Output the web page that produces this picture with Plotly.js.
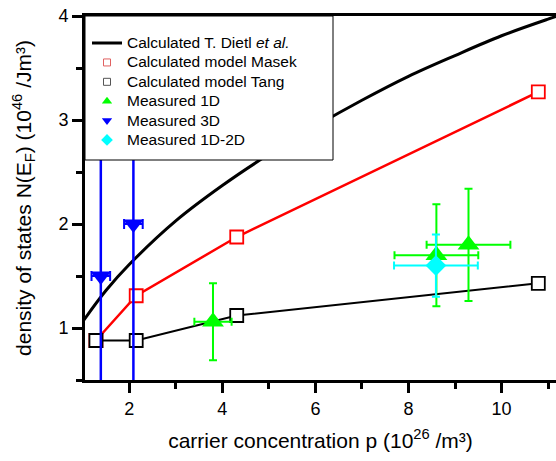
<!DOCTYPE html>
<html><head><meta charset="utf-8">
<script src="https://cdn.plot.ly/plotly-3.0.1.min.js"></script>
<style>html,body{margin:0;padding:0;background:#fff}#chart{width:556px;height:461px}</style>
</head><body><div id="chart"></div>
<script>
// Calculated T. Dietl et al. (smooth curve)
const dietlP = [1.0, 1.5, 2.0, 3.0, 4.0, 5.0, 6.0, 7.0, 8.0, 9.0, 10.0, 11.0, 11.17];
const dietlN = [1.06, 1.36, 1.61, 2.03, 2.37, 2.67, 2.94, 3.19, 3.42, 3.62, 3.81, 3.97, 3.995];
// Calculated model Masek
const masekP = [1.285, 2.15, 4.31, 10.79];
const masekN = [0.88, 1.31, 1.875, 3.27];
// Calculated model Tang
const tangP = [1.285, 2.15, 4.31, 10.79];
const tangN = [0.88, 0.88, 1.12, 1.43];
// Measured 1D
const m1dP = [3.80, 8.60, 9.29];
const m1dN = [1.06, 1.70, 1.80];
const m1dErrP = [0.40, 0.90, 0.90];
const m1dErrN = [0.37, 0.49, 0.54];
// Measured 3D
const m3dP = [1.39, 2.09];
const m3dN = [1.50, 2.00];
const m3dErrP = [0.20, 0.20];
const m3dErrN = [3.5, 3.5];
// Measured 1D-2D
const m12P = [8.59];
const m12N = [1.60];
const m12ErrP = [0.90];
const m12ErrN = [0.30];

const legendNames = ['Calculated T. Dietl <i>et al.</i>', 'Calculated model Masek', 'Calculated model Tang',
  'Measured 1D', 'Measured 3D', 'Measured 1D-2D'];

const GREEN = '#00ff00', BLUE = '#0000ff', CYAN = '#00ffff', RED = '#ff0000';
const LEG_FS = 15.5;
const lg = (s) => '<span style="font-size:' + LEG_FS + 'px">' + s + '</span>';

const traces = [
  {x: dietlP, y: dietlN, mode: 'lines', line: {color: '#000', width: 3, shape: 'spline', smoothing: 1},
   name: lg(legendNames[0]), legendrank: 1, showlegend: true},
  {x: masekP, y: masekN, mode: 'lines+markers', line: {color: RED, width: 2.5},
   marker: {symbol: 'square', size: 13, color: '#fff', line: {color: RED, width: 1.8}},
   showlegend: false},
  {x: tangP, y: tangN, mode: 'lines+markers', line: {color: '#000', width: 2},
   marker: {symbol: 'square', size: 13, color: '#fff', line: {color: '#000', width: 1.8}},
   showlegend: false},
  {x: m1dP, y: m1dN, mode: 'markers',
   marker: {symbol: 'triangle-up', size: 19, color: GREEN},
   error_y: {type: 'data', array: m1dErrN, visible: true, color: GREEN, thickness: 2, width: 4},
   error_x: {type: 'data', array: m1dErrP, visible: true, color: GREEN, thickness: 2, width: 4},
   showlegend: false},
  {x: m3dP, y: m3dN, mode: 'markers',
   marker: {symbol: 'triangle-down', size: 18, color: BLUE},
   error_y: {type: 'data', array: m3dErrN, visible: true, color: BLUE, thickness: 2.5, width: 0},
   error_x: {type: 'data', array: m3dErrP, visible: true, color: BLUE, thickness: 2, width: 5},
   showlegend: false},
  {x: m12P, y: m12N, mode: 'markers',
   marker: {symbol: 'diamond', size: 16, color: CYAN},
   error_y: {type: 'data', array: m12ErrN, visible: true, color: CYAN, thickness: 2, width: 4},
   error_x: {type: 'data', array: m12ErrP, visible: true, color: CYAN, thickness: 2, width: 4},
   showlegend: false},
  // legend-only entries (small symbols as in the reference legend)
  {x: [null], y: [null], mode: 'markers', name: lg(legendNames[1]), legendrank: 2,
   marker: {symbol: 'square-open', size: 7, color: '#e06060', line: {width: 1}}},
  {x: [null], y: [null], mode: 'markers', name: lg(legendNames[2]), legendrank: 3,
   marker: {symbol: 'square-open', size: 7, color: '#555', line: {width: 1}}},
  {x: [null], y: [null], mode: 'markers', name: lg(legendNames[3]), legendrank: 4,
   marker: {symbol: 'triangle-up', size: 9, color: GREEN}},
  {x: [null], y: [null], mode: 'markers', name: lg(legendNames[4]), legendrank: 5,
   marker: {symbol: 'triangle-down', size: 9, color: BLUE}},
  {x: [null], y: [null], mode: 'markers', name: lg(legendNames[5]), legendrank: 6,
   marker: {symbol: 'diamond', size: 9, color: CYAN}}
];

const L = 85, T = 16, W = 556, H = 461, B = 81;
const plotW = W - L, plotH = H - T - B;

const layout = {
  width: W, height: H,
  margin: {l: L, r: 0, t: T, b: B, pad: 0},
  paper_bgcolor: '#fff', plot_bgcolor: '#fff',
  font: {family: 'Liberation Sans, Arial, sans-serif', color: '#000', size: 18},
  showlegend: true,
  legend: {x: 2 / plotW, y: 0.966, xanchor: 'left', yanchor: 'top',
    bgcolor: 'rgba(0,0,0,0)', borderwidth: 0, font: {size: 12.6}, traceorder: 'normal'},
  xaxis: {
    range: [1.05, 11.17], tickmode: 'linear', tick0: 0, dtick: 2,
    ticks: 'outside', ticklen: 10, tickwidth: 3, tickcolor: '#000',
    showline: true, linewidth: 3, linecolor: '#000', mirror: true,
    showgrid: false, zeroline: false,
    minor: {dtick: 1, ticks: 'outside', ticklen: 6, tickwidth: 3, tickcolor: '#000', showgrid: false},
    tickfont: {size: 18},
    title: {text: 'carrier concentration p (10<sup>26</sup> /m³)', font: {size: 21}, standoff: 16}
  },
  yaxis: {
    range: [0.5, 4], tickmode: 'linear', tick0: 0, dtick: 1,
    ticks: 'outside', ticklen: 10, tickwidth: 3, tickcolor: '#000',
    showline: true, linewidth: 3, linecolor: '#000', mirror: false,
    showgrid: false, zeroline: false,
    minor: {dtick: 0.5, ticks: 'outside', ticklen: 6, tickwidth: 3, tickcolor: '#000', showgrid: false},
    tickfont: {size: 18},
    title: {text: 'density of states N(E<sub>F</sub>) (10<sup>46</sup> /Jm³)', font: {size: 21}}
  },
  shapes: [{type: 'rect', xref: 'paper', yref: 'paper', layer: 'above',
    x0: 0, x1: (333 - L) / plotW, y0: (H - B - 160) / plotH, y1: 1,
    fillcolor: '#fff', line: {color: '#000', width: 1}}]
};

Plotly.newPlot('chart', traces, layout, {displayModeBar: false, staticPlot: true});
</script>
</body></html>
